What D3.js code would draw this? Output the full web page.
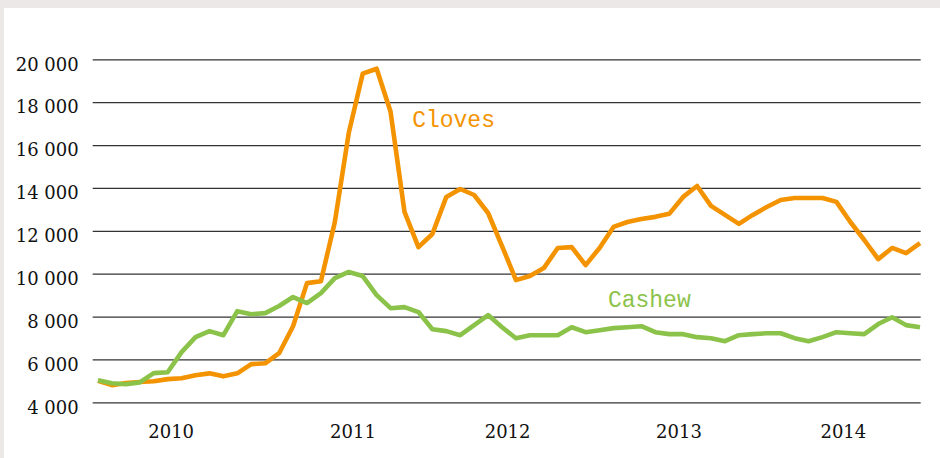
<!DOCTYPE html>
<html>
<head>
<meta charset="utf-8">
<script src="https://cdn.jsdelivr.net/npm/d3@7"></script>
<style>
  body { margin: 0; background: #ece8e8; }
  svg { display: block; }
</style>
</head>
<body>
<div id="graph"></div>
<script>
// monthly prices, Jan 2010 - Dec 2014
var cloves = [5000, 4800, 4900, 4950, 4980, 5080, 5120, 5260, 5350, 5210, 5350, 5780,
              5820, 6290, 7550, 9560, 9650, 12410, 16570, 19330, 19560, 17550, 12880, 11240,
              11850, 13580, 13950, 13670, 12830, 11290, 9700, 9890, 10260, 11200, 11240, 10400,
              11200, 12180, 12410, 12550, 12650, 12790, 13580, 14090, 13160, 12740, 12320, 12740,
              13110, 13440, 13530, 13530, 13530, 13350, 12410, 11570, 10680, 11200, 10960, 11430];
var cashew = [5030, 4890, 4840, 4930, 5360, 5400, 6340, 7040, 7320, 7130, 8250, 8110,
              8160, 8490, 8910, 8630, 9090, 9790, 10080, 9890, 9000, 8390, 8440, 8210,
              7410, 7320, 7130, 7600, 8070, 7500, 6990, 7130, 7130, 7130, 7500, 7270,
              7360, 7460, 7500, 7550, 7270, 7180, 7180, 7040, 6990, 6850, 7130, 7180,
              7220, 7220, 6990, 6850, 7040, 7270, 7220, 7180, 7650, 7970, 7600, 7500];
var years = ["2010", "2011", "2012", "2013", "2014"];
var yearPos = [5.25, 18.3, 29.4, 41.7, 53.5];   // month index where the year label sits
var yTicks = [4000, 6000, 8000, 10000, 12000, 14000, 16000, 18000, 20000];

var width = 940;
var height = 458;

var svg = d3.select('#graph')
  .append('svg')
  .attr('width', width)
  .attr('height', height);

svg.append('rect')
  .attr('width', width).attr('height', height)
  .attr('fill', '#ece8e8');
svg.append('rect')
  .attr('x', 4).attr('y', 8)
  .attr('width', width - 4).attr('height', height - 8)
  .attr('fill', '#fff');

var x = d3.scaleLinear().domain([0, cloves.length - 1]).range([98, 920]);
var y = d3.scaleLinear().domain([4000, 20000]).range([402.3, 59.3]);

var fmt = d3.formatLocale({decimal: ".", thousands: " ", grouping: [3], currency: ["", ""]}).format(",");

var yAxis = svg.append('g')
  .attr('transform', 'translate(92.7,0)')
  .call(d3.axisLeft(y).tickValues(yTicks).tickFormat(fmt).tickSize(-828).tickPadding(14));
yAxis.select('.domain').remove();
yAxis.selectAll('line').attr('stroke', '#333').attr('stroke-width', 1.2);
yAxis.selectAll('text')
  .attr('dy', '0.6em')
  .attr('fill', '#111')
  .style('font-family', '"DejaVu Serif", serif')
  .style('font-size', '18px');

svg.selectAll('.year')
  .data(years)
  .enter()
  .append('text')
  .attr('class', 'year')
  .attr('x', function(d, i) { return x(yearPos[i]); })
  .attr('y', 438)
  .attr('text-anchor', 'middle')
  .attr('fill', '#111')
  .style('font-family', '"DejaVu Serif", serif')
  .style('font-size', '18px')
  .text(function(d) { return d; });

var line = d3.line()
  .x(function(d, i) { return x(i); })
  .y(function(d) { return y(d); });

svg.append('path')
  .attr('d', line(cloves))
  .attr('fill', 'none')
  .attr('stroke', '#f49300')
  .attr('stroke-width', 4.6)
  .attr('stroke-linejoin', 'round');

svg.append('path')
  .attr('d', line(cashew))
  .attr('fill', 'none')
  .attr('stroke', '#8bc34a')
  .attr('stroke-width', 4.6)
  .attr('stroke-linejoin', 'round');

svg.append('text')
  .attr('x', x(22.55)).attr('y', y(16840))
  .attr('fill', '#f49300')
  .style('font-family', '"Liberation Mono", monospace')
  .style('font-size', '23px')
  .text('Cloves');

svg.append('text')
  .attr('x', x(36.6)).attr('y', y(8445))
  .attr('fill', '#8bc34a')
  .style('font-family', '"Liberation Mono", monospace')
  .style('font-size', '23px')
  .text('Cashew');
</script>
</body>
</html>
